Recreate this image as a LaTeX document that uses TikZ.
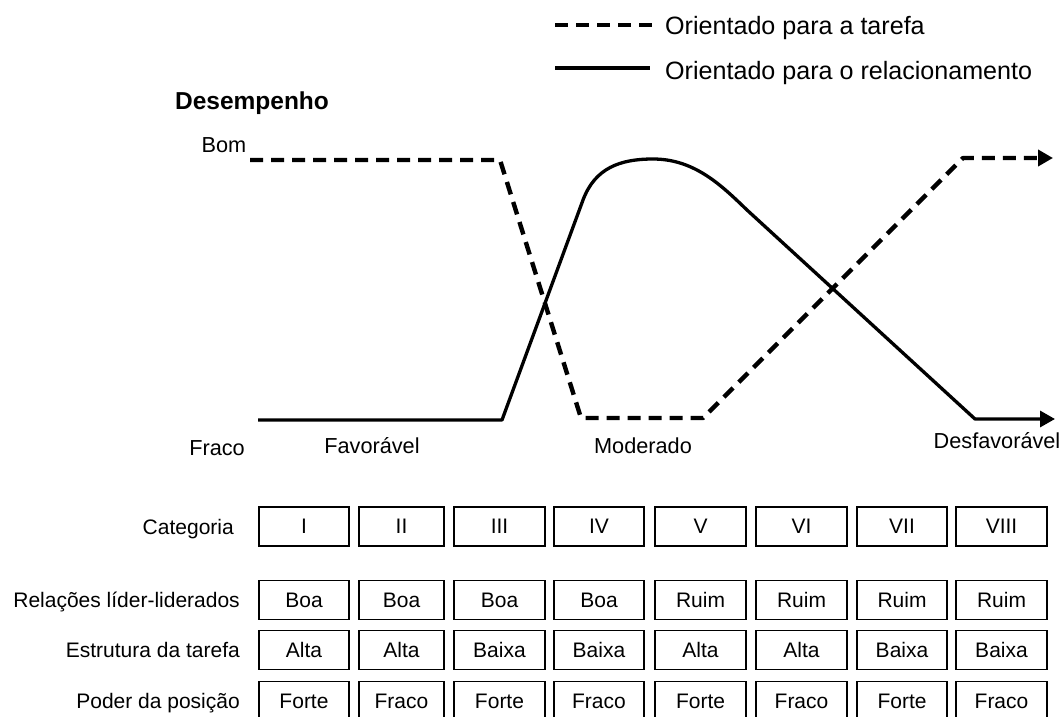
\documentclass[tikz,border=0pt]{standalone}
\usepackage{fontspec}
\setmainfont{Liberation Sans}
\usetikzlibrary{arrows.meta}
\begin{document}
\begin{tikzpicture}[x=1pt,y=-1pt,
  task/.style={line width=4.4pt, dash pattern=on 13pt off 8pt, line join=round},
  rel/.style={line width=3.3pt, line join=round},
  lbl/.style={font=\fontsize{21.7}{24}\selectfont, inner sep=0pt, anchor=base},
  leg/.style={font=\fontsize{25.1}{28}\selectfont, inner sep=0pt, anchor=base west},
  cell/.style={draw, line width=1.2pt, minimum width=90pt, minimum height=39pt, inner sep=0pt, font=\fontsize{21}{24}\selectfont},
  rowlbl/.style={font=\fontsize{21}{24}\selectfont, inner sep=0pt, anchor=base east},
  tip/.style={-{Triangle[length=15pt,width=16pt]}}
]
\clip (0,0) rectangle (1063,717);
\fill[white] (0,0) rectangle (1063,717);

% legend
\coordinate (l1a) at (555,25); \coordinate (l1b) at (652,25);
\coordinate (l2a) at (555,68); \coordinate (l2b) at (650,68);
\draw[task] (l1a) -- (l1b);
\draw[rel] (l2a) -- (l2b);
\node[leg] (leg1) at (665,35) {Orientado para a tarefa};
\node[leg] (leg2) at (665,80) {Orientado para o relacionamento};

% axis labels
\node[lbl, font=\fontsize{24.5}{28}\selectfont\bfseries] (desemp) at (252,110) {Desempenho};
\node[lbl] (bom) at (224,152) {Bom};
\node[lbl] (fraco) at (217,455) {Fraco};
\node[lbl] (fav) at (372,453) {Favorável};
\node[lbl] (mod) at (643,453) {Moderado};
\node[lbl] (desf) at (997,448) {Desfavorável};

% task-oriented curve
\coordinate (t0) at (250,160);
\coordinate (t1) at (500,160);
\coordinate (t2) at (581,418);
\coordinate (t3) at (703,418);
\coordinate (t4) at (963,158);
\coordinate (t5) at (1053,158);
\draw[task, tip] (t0) -- (t1) -- (t2) -- (t3) -- (t4) -- (t5);

% relationship-oriented curve
\coordinate (r0) at (258,420);
\coordinate (r1) at (502,420);
\coordinate (r2) at (583,200);
\coordinate (r3) at (653,159);
\coordinate (r4) at (747,210);
\coordinate (r5) at (975,419);
\coordinate (r6) at (1055,419);
\draw[rel, tip] (r0) -- (r1) -- (r2)
  .. controls (595,168) and (620,159) .. (r3)
  .. controls (695,159) and (722,186) .. (r4)
  -- (r5) -- (r6);

% table
\node[rowlbl] (hcat) at (234,534) {Categoria};
\node[rowlbl] (hrel) at (240,607.5) {Relações líder-liderados};
\node[rowlbl] (hest) at (240,657.5) {Estrutura da tarefa};
\node[rowlbl] (hpod) at (240,708.5) {Poder da posição};

\foreach \x/\w/\c/\r/\e/\p [count=\i] in {
  304/90/I/Boa/Alta/Forte,
  401.5/85/II/Boa/Alta/Fraco,
  499.5/91/III/Boa/Baixa/Forte,
  599/90/IV/Boa/Baixa/Fraco,
  700.5/91/V/Ruim/Alta/Forte,
  801.5/91/VI/Ruim/Alta/Fraco,
  902/90/VII/Ruim/Baixa/Forte,
  1001.5/91/VIII/Ruim/Baixa/Fraco} {
  \node[cell, minimum width=\w pt] (cat\i) at (\x,526.5) {\c};
  \node[cell, minimum width=\w pt] (rel\i) at (\x,600) {\r};
  \node[cell, minimum width=\w pt] (est\i) at (\x,650) {\e};
  \node[cell, minimum width=\w pt] (pod\i) at (\x,701) {\p};
}
\end{tikzpicture}
\end{document}
